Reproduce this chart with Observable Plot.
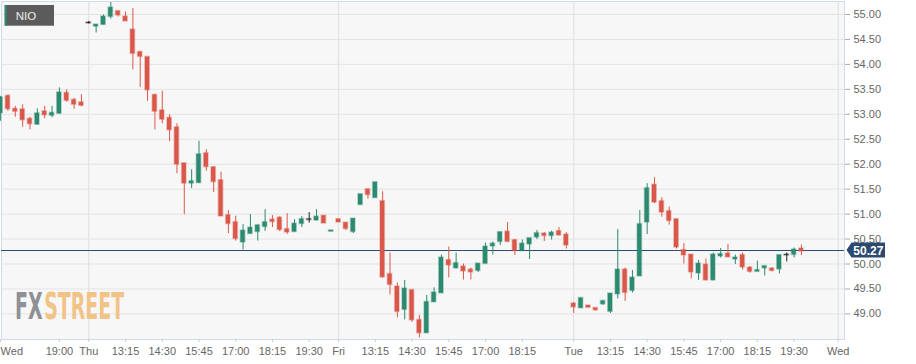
<!DOCTYPE html>
<html><head><meta charset="utf-8">
<script src="https://cdn.jsdelivr.net/npm/d3@7"></script>
<script src="https://cdn.jsdelivr.net/npm/@observablehq/plot@0.6"></script>
<style>
html,body{margin:0;padding:0;background:#fff;}
#chart{position:relative;width:916px;height:364px;}
</style></head><body><div id="chart"></div>
<script>
const symbol = "NIO";
const lastPrice = 50.27;
const lastLabel = "50.27";

// candle index (15-minute slots, sessions joined without gaps)
const idx = d3.range(-12, 98);
const open = [
  53.03,53.36,53.10,53.09,52.90,52.80,53.05,52.98,53.02,53.42,53.28,53.23,
  54.83,54.765,54.80,54.96,55.06,54.95,54.69,54.24,54.14,53.38,
  53.07,52.92,52.73,52.01,51.62,51.63,52.21,51.93,51.67,50.97,
  50.83,50.44,50.61,50.65,50.75,50.88,50.92,50.69,50.65,50.81,
  50.89,50.88,50.96,50.655,50.89,50.82,50.65,51.19,51.49,51.33,
  51.25,49.79,49.54,49.09,49.47,48.87,48.62,49.24,49.42,50.07,
  49.92,49.94,49.88,49.87,50.01,50.36,50.45,50.64,50.47,50.27,
  50.40,50.54,50.60,50.57,50.65,50.58,49.20,49.12,49.16,49.11,
  49.20,49.05,49.40,49.88,49.47,49.76,50.84,51.58,51.25,51.05,
  50.89,50.27,50.18,49.82,49.98,49.68,50.16,50.20,50.10,50.17,
  49.92,49.85,49.92,49.90,49.90,50.18,50.19,50.30];
const high = [
  53.36,53.39,53.16,53.19,52.94,53.11,53.16,53.16,53.53,53.49,53.32,53.39,
  54.86,54.79,54.99,55.24,55.06,55.05,55.12,54.26,54.14,53.40,
  53.46,52.99,52.81,52.01,51.89,52.46,52.29,51.95,51.84,51.07,
  50.96,50.79,50.99,50.77,51.09,50.97,50.95,51.01,50.89,50.95,
  51.03,51.09,50.96,50.665,50.89,50.82,50.90,51.39,51.49,51.63,
  51.45,50.22,49.62,49.67,49.47,48.97,49.37,49.52,50.18,50.34,
  50.22,50.00,49.92,50.00,50.42,50.44,50.64,50.83,50.49,50.48,
  50.51,50.67,50.63,50.66,50.73,50.63,49.23,49.31,49.16,49.11,
  49.27,49.40,50.69,49.92,49.87,51.07,51.61,51.73,51.33,51.14,
  50.89,50.41,50.18,50.07,50.10,50.22,50.31,50.39,50.18,50.22,
  49.95,50.06,49.95,49.93,50.17,50.22,50.32,50.38];
const low = [
  52.86,53.06,52.94,52.74,52.69,52.78,52.91,52.93,53.00,53.24,53.10,53.15,
  54.81,54.63,54.79,54.91,54.95,54.87,53.89,53.54,53.26,52.69,
  52.81,52.45,51.81,50.99,51.51,51.61,51.86,51.43,50.96,50.61,
  50.46,50.28,50.60,50.46,50.65,50.73,50.65,50.59,50.64,50.73,
  50.82,50.86,50.82,50.655,50.84,50.67,50.61,51.19,51.30,51.33,
  49.72,49.38,48.92,48.88,48.83,48.52,48.62,49.24,49.42,49.72,
  49.90,49.68,49.68,49.83,50.01,50.18,50.37,50.44,50.17,50.27,
  50.09,50.49,50.45,50.48,50.56,50.30,49.01,49.12,49.13,49.06,
  49.17,49.01,49.30,49.25,49.42,49.76,50.59,51.21,50.94,50.78,
  50.30,50.00,49.70,49.67,49.66,49.66,50.12,50.14,49.99,49.88,
  49.82,49.85,49.76,49.84,49.80,50.04,50.12,50.17];
const close = [
  53.33,53.11,53.06,52.89,52.81,53.01,52.99,53.02,53.43,53.28,53.20,53.18,
  54.83,54.79,54.95,55.13,54.99,54.87,54.22,54.16,53.49,53.06,
  52.90,52.69,52.00,51.62,51.65,52.19,51.95,51.65,50.96,50.81,
  50.51,50.66,50.72,50.77,50.83,50.85,50.69,50.64,50.80,50.89,
  50.89,50.94,50.82,50.665,50.84,50.71,50.90,51.39,51.39,51.63,
  49.74,49.59,49.05,49.50,48.88,48.62,49.23,49.42,50.12,49.98,
  50.01,49.86,49.84,50.00,50.34,50.40,50.63,50.45,50.27,50.40,
  50.51,50.61,50.57,50.62,50.58,50.38,49.14,49.31,49.13,49.08,
  49.25,49.40,49.88,49.43,49.72,50.79,51.51,51.24,51.04,50.87,
  50.34,50.18,49.84,50.00,49.68,50.18,50.19,50.14,50.12,49.94,
  49.85,49.87,49.95,49.87,50.17,50.18,50.28,50.26];

const tickIdx = [-12,-4,0,5,10,15,20,25,30,34,39,44,49,54,59,66,71,76,81,86,91,96,102];
const tickLabels = ["Wed","19:00","Thu","13:15","14:30","15:45","17:00","18:15","19:30","Fri","13:15","14:30","15:45","17:00","18:15","Tue","13:15","14:30","15:45","17:00","18:15","19:30","Wed"];
const dayIdx = [0,34,66,102];
const yTicks = [49,49.5,50,50.5,51,51.5,52,52.5,53,53.5,54,54.5,55];

const GREEN = "#2b8a70", RED = "#d9584a", DOJI = "#222";
const data = idx.map((i,k)=>({i, o:open[k], h:high[k], l:low[k], c:close[k]}));
const colorOf = d => d.c > d.o ? GREEN : d.c < d.o ? RED : DOJI;
const labelMap = new Map(tickIdx.map((t,k)=>[t, tickLabels[k]]));

const chart = Plot.plot({
  width: 916, height: 364,
  marginLeft: 1, marginRight: 72, marginTop: 1, marginBottom: 25,
  style: {background: "#fff", fontFamily: "'Liberation Sans', Arial, sans-serif", fontSize: "11px", color: "#666"},
  x: {type: "linear", domain: [-11.88, 102.86]},
  y: {domain: [48.487, 55.2605]},
  marks: [
    Plot.frame({fill: "#f7f7f7"}),
    Plot.gridY(yTicks, {stroke: "#e3e3e3", strokeOpacity: 1, strokeWidth: 1}),
    Plot.gridX(dayIdx, {stroke: "#e3e3e3", strokeOpacity: 1, strokeWidth: 1.3}),
    Plot.frame({stroke: "#d3d9ec"}),
    Plot.axisY(yTicks, {anchor: "right", tickSize: 5, tickPadding: 4, tickFormat: d => d.toFixed(2), stroke: "#aaa", fill: "#666", label: null}),
    Plot.axisX(tickIdx, {anchor: "bottom", tickSize: 3, tickPadding: 5, tickFormat: t => t === tickIdx[0] ? "" : labelMap.get(t), stroke: "#c5cde0", fill: "#666", label: null}),
    Plot.text([tickLabels[0]], {x: () => tickIdx[0], frameAnchor: "bottom", dy: 12, textAnchor: "start", lineAnchor: "middle", fill: "#666"}),
    Plot.ruleY([lastPrice], {stroke: "#2c4a70", strokeWidth: 1}),
    Plot.ruleX(data, {x: "i", y1: "l", y2: "h", stroke: colorOf, strokeWidth: 1}),
    Plot.rect(data, {
      x1: d => d.i - 0.29, x2: d => d.i + 0.29,
      y1: d => Math.min(d.o, d.c) - 0.008, y2: d => Math.max(d.o, d.c) + 0.008,
      fill: colorOf, stroke: colorOf, strokeOpacity: 0.35, strokeWidth: 1.6
    })
  ]
});
document.getElementById("chart").appendChild(chart);

const svg = d3.select(chart);
// symbol badge
const badge = svg.append("g").attr("text-anchor", "start");
badge.append("rect").attr("x", 4.7).attr("y", 5).attr("width", 49.3).attr("height", 20.7).attr("fill", "#5b5b5b");
badge.append("rect").attr("x", 4.7).attr("y", 5).attr("width", 2).attr("height", 20.7).attr("fill", GREEN);
badge.append("text").attr("x", 15.7).attr("y", 15.8).attr("dominant-baseline", "central").attr("text-anchor", "start")
  .attr("font-size", 11.5).attr("fill", "#eee").attr("font-family", "'Liberation Sans', Arial, sans-serif").text(symbol);

// watermark: two texts, measured and scaled to fit side by side
const fs = 26;
const wm = svg.append("g").attr("text-anchor", "start")
  .attr("font-family", "'DejaVu Sans Condensed', 'DejaVu Sans', sans-serif").attr("font-weight", "bold").attr("font-size", fs);
const t1 = wm.append("text").attr("x", 0).attr("y", 0).attr("text-anchor", "start").attr("fill", "#8e9096").text("FX");
const t2 = wm.append("text").attr("y", 0).attr("text-anchor", "start").attr("fill", "#f2c386").text("STREET");
const w1 = t1.node().getComputedTextLength(), w2 = t2.node().getComputedTextLength();
const sx = (109.3 - 1.5) / (w1 + w2);
const sy = 27 / (0.729 * fs);
t2.attr("x", w1 + 1.5 / sx);
wm.attr("transform", `translate(15,318.5) scale(${sx},${sy})`);

// last price label
const yp = chart.scale("y").apply(lastPrice);
const lab = svg.append("g");
lab.append("path").attr("d", `M846.5,${yp} L851.5,${yp-7.5} L885,${yp-7.5} L885,${yp+7.5} L851.5,${yp+7.5} Z`).attr("fill", "#2c4a70");
lab.append("text").attr("x", 868.3).attr("y", yp + 0.5).attr("dominant-baseline", "central").attr("text-anchor", "middle")
  .attr("font-size", 12).attr("font-weight", "bold").attr("fill", "#fff").attr("font-family", "'Liberation Sans', Arial, sans-serif").text(lastLabel);
</script>
</body></html>
